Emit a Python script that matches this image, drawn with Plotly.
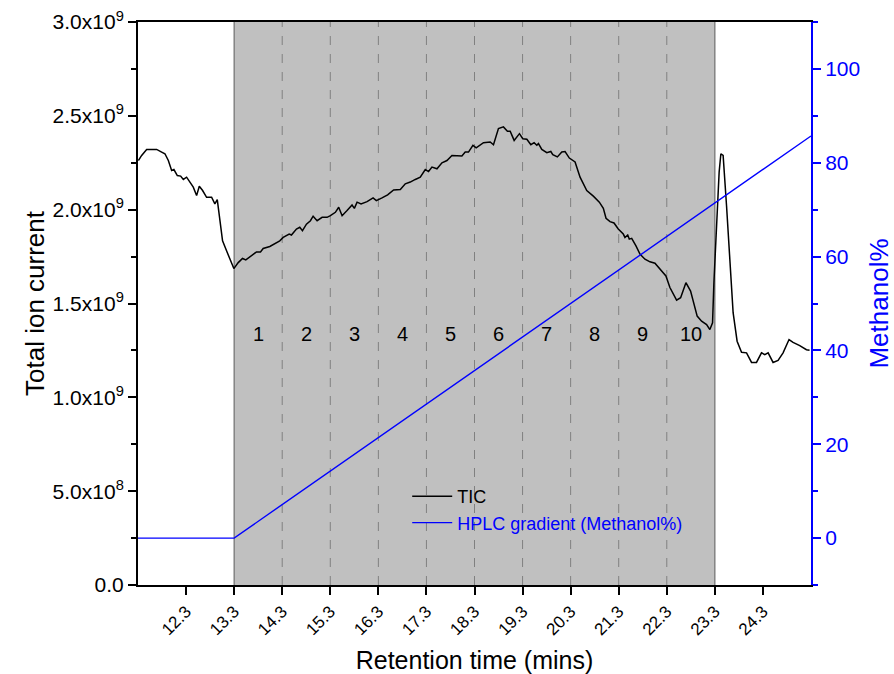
import plotly.graph_objects as go

# Total ion current trace (time in minutes, intensity in counts)
tic_time = [
    11.308, 11.376, 11.48, 11.584, 11.688, 11.792, 11.86, 11.931, 12.0, 12.047,
    12.118, 12.187, 12.243, 12.311, 12.38, 12.45, 12.519, 12.575, 12.644, 12.727,
    12.831, 12.899, 12.949, 13.003, 13.059, 13.142, 13.225, 13.294, 13.385, 13.474,
    13.543, 13.661, 13.765, 13.848, 13.904, 14.042, 14.145, 14.249, 14.32, 14.445,
    14.492, 14.596, 14.665, 14.721, 14.804, 14.887, 14.943, 15.026, 15.13, 15.234,
    15.302, 15.406, 15.475, 15.546, 15.649, 15.753, 15.801, 15.857, 15.94, 16.065,
    16.19, 16.258, 16.376, 16.493, 16.617, 16.757, 16.86, 16.964, 17.068, 17.172,
    17.276, 17.344, 17.415, 17.519, 17.623, 17.727, 17.831, 17.934, 18.038, 18.107,
    18.175, 18.267, 18.335, 18.487, 18.626, 18.695, 18.798, 18.902, 18.985, 19.042,
    19.125, 19.235, 19.305, 19.389, 19.472, 19.54, 19.596, 19.63, 19.7, 19.804,
    19.887, 19.929, 20.024, 20.116, 20.184, 20.273, 20.357, 20.392, 20.496, 20.564,
    20.635, 20.772, 20.897, 20.98, 21.036, 21.119, 21.202, 21.291, 21.395, 21.43,
    21.487, 21.52, 21.57, 21.659, 21.742, 21.846, 21.95, 22.054, 22.157, 22.282,
    22.365, 22.504, 22.588, 22.698, 22.795, 22.885, 22.932, 23.024, 23.128, 23.196,
    23.252, 23.28, 23.335, 23.389, 23.425, 23.472, 23.543, 23.612, 23.68, 23.763,
    23.855, 23.959, 24.063, 24.166, 24.27, 24.339, 24.408, 24.511, 24.615, 24.719,
    24.843, 24.927, 25.066, 25.205, 25.27,
]
tic_value_e9 = [
    2.262, 2.289, 2.321, 2.320, 2.321, 2.307, 2.298, 2.262, 2.209, 2.214,
    2.182, 2.179, 2.161, 2.173, 2.147, 2.120, 2.075, 2.125, 2.102, 2.066,
    2.066, 2.031, 2.054, 1.950, 1.834, 1.781, 1.727, 1.686, 1.718, 1.740,
    1.732, 1.754, 1.775, 1.775, 1.793, 1.804, 1.820, 1.834, 1.852, 1.870,
    1.865, 1.897, 1.906, 1.888, 1.923, 1.941, 1.965, 1.941, 1.959, 1.959,
    1.968, 1.986, 2.013, 1.968, 1.995, 2.025, 2.007, 2.040, 2.031, 2.043,
    2.063, 2.048, 2.063, 2.079, 2.105, 2.107, 2.138, 2.147, 2.161, 2.173,
    2.214, 2.203, 2.227, 2.218, 2.250, 2.262, 2.289, 2.289, 2.286, 2.307,
    2.307, 2.343, 2.329, 2.357, 2.361, 2.346, 2.432, 2.441, 2.418, 2.418,
    2.369, 2.405, 2.378, 2.375, 2.346, 2.357, 2.343, 2.352, 2.321, 2.304,
    2.310, 2.293, 2.281, 2.307, 2.310, 2.275, 2.257, 2.254, 2.173, 2.138,
    2.102, 2.072, 2.040, 2.007, 1.954, 1.936, 1.929, 1.897, 1.870, 1.852,
    1.865, 1.843, 1.847, 1.807, 1.763, 1.736, 1.722, 1.715, 1.686, 1.647,
    1.585, 1.518, 1.531, 1.611, 1.566, 1.486, 1.433, 1.406, 1.388, 1.361,
    1.397, 1.611, 1.933, 2.200, 2.298, 2.289, 2.021, 1.700, 1.451, 1.299,
    1.240, 1.237, 1.186, 1.186, 1.237, 1.228, 1.237, 1.186, 1.197, 1.237,
    1.308, 1.293, 1.276, 1.254, 1.251,
]
tic_value = [v * 1e9 for v in tic_value_e9]

# HPLC gradient: isocratic start, then linear ramp of methanol
grad_time = [11.3, 13.3, 25.3]
grad_methanol = [0.0, 0.0, 85.71]

# Fraction windows
fraction_edges = [13.3, 14.3, 15.3, 16.3, 17.3, 18.3, 19.3, 20.3, 21.3, 22.3, 23.3]
fraction_labels = ["1", "2", "3", "4", "5", "6", "7", "8", "9", "10"]
fraction_label_level = 1.34e9

x_tick_vals = [12.3, 13.3, 14.3, 15.3, 16.3, 17.3, 18.3, 19.3, 20.3, 21.3, 22.3, 23.3, 24.3]
x_tick_text = ["12.3", "13.3", "14.3", "15.3", "16.3", "17.3", "18.3", "19.3",
               "20.3", "21.3", "22.3", "23.3", "24.3"]
y_tick_vals = [0, 0.5e9, 1.0e9, 1.5e9, 2.0e9, 2.5e9, 3.0e9]
y_tick_text = ["0.0", "5.0x10<sup>8</sup>", "1.0x10<sup>9</sup>", "1.5x10<sup>9</sup>",
               "2.0x10<sup>9</sup>", "2.5x10<sup>9</sup>", "3.0x10<sup>9</sup>"]
y_minor_vals = [0.25e9, 0.75e9, 1.25e9, 1.75e9, 2.25e9, 2.75e9]
y2_tick_vals = [0, 20, 40, 60, 80, 100]
y2_minor_vals = [-10, 10, 30, 50, 70, 90, 110]

FONT = "Liberation Sans, Arial, sans-serif"
BLUE = "#0000ff"

fig = go.Figure()

fig.add_trace(go.Scatter(
    x=tic_time, y=tic_value, mode="lines", name="TIC",
    line=dict(color="black", width=1.5), yaxis="y",
))
fig.add_trace(go.Scatter(
    x=grad_time, y=grad_methanol, mode="lines",
    name='<span style="color:#0000ff">HPLC gradient (Methanol%)</span>',
    line=dict(color=BLUE, width=1.4), yaxis="y2",
))

# Shaded fraction-collection window
fig.add_shape(type="rect", xref="x", yref="paper",
              x0=fraction_edges[0], x1=fraction_edges[-1], y0=0, y1=1,
              fillcolor="#c0c0c0", line=dict(width=0), layer="below")
for edge in (fraction_edges[0], fraction_edges[-1]):
    fig.add_shape(type="line", xref="x", yref="paper", x0=edge, x1=edge, y0=0, y1=1,
                  line=dict(color="#6e6e6e", width=1.2), layer="below")
for edge in fraction_edges[1:-1]:
    fig.add_shape(type="line", xref="x", yref="paper", x0=edge, x1=edge, y0=0, y1=1,
                  line=dict(color="#808080", width=1, dash="dash"), layer="below")

for i, lab in enumerate(fraction_labels):
    mid = (fraction_edges[i] + fraction_edges[i + 1]) / 2
    fig.add_annotation(x=mid, y=fraction_label_level, xref="x", yref="y",
                       text=lab, showarrow=False,
                       font=dict(family=FONT, size=20, color="black"))

fig.update_layout(
    width=894, height=674,
    margin=dict(l=138, r=83, t=22, b=89, autoexpand=False),
    plot_bgcolor="white", paper_bgcolor="white",
    font=dict(family=FONT, color="black"),
    showlegend=True,
    legend=dict(x=0.40, y=0.19, xanchor="left", yanchor="top",
                bgcolor="rgba(0,0,0,0)", borderwidth=0,
                font=dict(family=FONT, size=18, color="black"),
                tracegroupgap=0, itemwidth=40),
    xaxis=dict(
        range=[11.3, 25.3], tickmode="array", tickvals=x_tick_vals, ticktext=x_tick_text,
        tickangle=-45, ticks="outside", ticklen=8, tickwidth=2, tickcolor="black",
        showline=True, linecolor="black", linewidth=2, mirror=True,
        showgrid=False, zeroline=False, automargin=False,
        tickfont=dict(family=FONT, size=17, color="black"),
        title=dict(text="Retention time (mins)", font=dict(family=FONT, size=25), standoff=14),
    ),
    yaxis=dict(
        range=[0, 3.0e9], tickmode="array", tickvals=y_tick_vals, ticktext=y_tick_text,
        ticks="outside", ticklen=8, tickwidth=2, tickcolor="black",
        minor=dict(tickmode="array", tickvals=y_minor_vals, ticks="outside",
                   ticklen=5, tickwidth=2, tickcolor="black"),
        showline=True, linecolor="black", linewidth=2, mirror=False,
        showgrid=False, zeroline=False, automargin=False,
        tickfont=dict(family=FONT, size=21, color="black"),
        title=dict(text="Total ion current", font=dict(family=FONT, size=26), standoff=0),
    ),
    yaxis2=dict(
        range=[-10, 110], overlaying="y", side="right", anchor="x",
        tickmode="array", tickvals=y2_tick_vals,
        ticks="outside", ticklen=8, tickwidth=2, tickcolor=BLUE,
        minor=dict(tickmode="array", tickvals=y2_minor_vals, ticks="outside",
                   ticklen=5, tickwidth=2, tickcolor=BLUE),
        showline=True, linecolor=BLUE, linewidth=2,
        showgrid=False, zeroline=False, automargin=False,
        tickfont=dict(family=FONT, size=21, color=BLUE),
        title=dict(text="Methanol%", font=dict(family=FONT, size=26, color=BLUE), standoff=12),
    ),
)

fig.write_html("out.html")
